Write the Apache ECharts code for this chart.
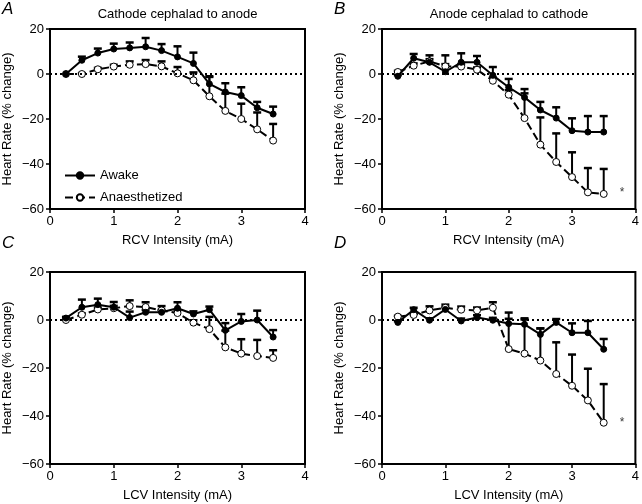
<!DOCTYPE html>
<html><head><meta charset="utf-8">
<script src="https://cdn.jsdelivr.net/npm/echarts@6/dist/echarts.min.js"></script>
<style>html,body{margin:0;padding:0;background:#fff}#c{width:642px;height:504px}</style>
</head><body><div id="c"></div>
<script>
// ---- data ----
const intensity = [0.25,0.5,0.75,1.0,1.25,1.5,1.75,2.0,2.25,2.5,2.75,3.0,3.25,3.5];
const xTicks = [0,1,2,3,4];
const yTicks = [-60,-40,-20,0,20];

const awakeA = [0,6.1,9.3,11.1,11.6,12.1,10.4,7.6,4.7,-4.4,-8,-9.6,-15,-17.8];
const awakeErrA = [0,1.6,2,2.4,2.4,3.9,2.9,4.7,4.8,3.4,3.9,3.7,2.6,3.3];
const anaesA = [0,0,2.1,3.3,4.1,4.4,3.4,0.3,-2.8,-9.9,-16.4,-20,-24.6,-29.6];
const anaesErrA = [0,0.4,0.6,0.8,1.5,1.8,2.2,2.8,3.5,8.6,7.7,6.8,7.5,7.4];

const awakeB = [-1,7,5.2,1,5.2,5.2,-0.6,-5.9,-10.4,-16,-19.6,-25.2,-25.8,-25.8];
const awakeErrB = [0.5,1.9,3.1,7.3,4.0,2.8,3.7,3.7,3.7,3.6,4.8,5.5,7.1,7.1];
const anaesB = [0.9,3.7,5.6,3.4,3.3,1.9,-3,-9.2,-19.6,-31.4,-39.1,-45.8,-52.6,-53.3];
const anaesErrB = [0.5,1,1,1,1,1,1.5,2,11,12.1,12.7,11,10.8,11.1];

const awakeC = [0.8,5.3,6.4,5.3,1.0,3.2,3.2,4.9,2.5,4.3,-4.3,-0.6,0,-7.1];
const awakeErrC = [0.5,3.2,2.5,2.2,2.5,1,1,2.5,1.1,1.3,3.0,3.1,3.9,2.9];
const anaesC = [0,2.2,4.4,4.9,5.8,5.4,4,2.9,-1.1,-3.8,-11.4,-14,-15,-15.8];
const anaesErrC = [0.3,0.5,0.8,1,2.4,2,1.8,1.2,1,5.1,7,6,6.7,3.2];

const awakeD = [-1,4.3,-0.1,4.4,-0.4,1,-0.1,-1.5,-1.8,-6,-1,-5.3,-5.3,-12.2];
const awakeErrD = [0.5,0.8,0.8,1,1,1,1,2,2,2.5,1.4,3.9,4.9,4.3];
const anaesD = [1.4,2.1,4.0,5.1,4.3,4,5.1,-12.1,-14,-16.9,-22.5,-27.4,-33.5,-42.8];
const anaesErrD = [0.3,0.5,1.7,1.3,1.3,1.2,2.3,15.2,14.7,13.4,13.2,13,13.2,16.1];

const starB = [3.79,-52.9];
const starD = [3.79,-42.8];

const panelLetters = ['A','B','C','D'];
const panelTitles = ['Cathode cephalad to anode','Anode cephalad to cathode','',''];
const xNames = ['RCV Intensity (mA)','RCV Intensity (mA)','LCV Intensity (mA)','LCV Intensity (mA)'];
const yName = 'Heart Rate (% change)';
const seriesNames = ['Awake','Anaesthetized'];

// ---- layout ----
const grids = [
  {left:50, top:29, width:255, height:180},
  {left:382, top:29, width:254, height:180},
  {left:50, top:272, width:255, height:192},
  {left:382, top:272, width:254, height:192}
];
const panels = [
  [awakeA,awakeErrA,anaesA,anaesErrA,null],
  [awakeB,awakeErrB,anaesB,anaesErrB,starB],
  [awakeC,awakeErrC,anaesC,anaesErrC,null],
  [awakeD,awakeErrD,anaesD,anaesErrD,starD]
];

const FONT = 'Liberation Sans, Arial, sans-serif';
const pts = v => intensity.map((x,i)=>[x,v[i]]);
const errPts = (v,e) => intensity.map((x,i)=>[x,v[i],e[i]]);

function renderErr(params, api){
  const x = api.value(0), y = api.value(1), e = api.value(2);
  if (!e) return null;
  const p0 = api.coord([x,y]), p1 = api.coord([x,y+e]);
  const hw = 4;
  return {type:'group', children:[
    {type:'line', shape:{x1:p0[0],y1:p0[1],x2:p1[0],y2:p1[1]}, style:{stroke:'#000',lineWidth:2}},
    {type:'line', shape:{x1:p1[0]-hw,y1:p1[1],x2:p1[0]+hw,y2:p1[1]}, style:{stroke:'#000',lineWidth:2.5}}
  ]};
}

const xAxes = [], yAxes = [], series = [], graphics = [];
grids.forEach((g,k)=>{
  xAxes.push({type:'value', gridIndex:k, min:xTicks[0], max:xTicks[xTicks.length-1], interval:1,
    name:xNames[k], nameLocation:'middle', nameGap:25,
    nameTextStyle:{fontSize:13,color:'#000',fontFamily:FONT},
    axisLine:{show:true,onZero:false,lineStyle:{color:'#000',width:2}},
    axisTick:{show:true,length:4,lineStyle:{color:'#000',width:1.5}},
    axisLabel:{fontSize:13,color:'#000',fontFamily:FONT,margin:6},
    splitLine:{show:false}});
  yAxes.push({type:'value', gridIndex:k, min:yTicks[0], max:yTicks[yTicks.length-1], interval:20,
    name:yName, nameLocation:'middle', nameGap:36,
    nameTextStyle:{fontSize:13,color:'#000',fontFamily:FONT},
    axisLine:{show:true,onZero:false,lineStyle:{color:'#000',width:2}},
    axisTick:{show:true,length:4,lineStyle:{color:'#000',width:1.5}},
    axisLabel:{fontSize:13,color:'#000',fontFamily:FONT,margin:6,
      formatter:v=> v<0 ? '\u2212'+Math.abs(v) : ''+v},
    splitLine:{show:false}});
  const [aw,awE,an,anE,star] = panels[k];
  series.push({type:'custom', xAxisIndex:k, yAxisIndex:k, renderItem:renderErr, data:errPts(an,anE), z:1, silent:true});
  series.push({type:'custom', xAxisIndex:k, yAxisIndex:k, renderItem:renderErr, data:errPts(aw,awE), z:1, silent:true});
  series.push({type:'line', name:seriesNames[1], xAxisIndex:k, yAxisIndex:k, data:pts(an), z:3,
    symbol:'circle', symbolSize:7, showAllSymbol:true,
    itemStyle:{color:'#fff',borderColor:'#000',borderWidth:1},
    lineStyle:{color:'#000',width:2,type:[8,4]},
    markLine:{silent:true,symbol:'none',label:{show:false},
      lineStyle:{color:'#000',width:2,type:[2,3]}, data:[{yAxis:0}]}});
  series.push({type:'line', name:seriesNames[0], xAxisIndex:k, yAxisIndex:k, data:pts(aw), z:4,
    symbol:'circle', symbolSize:6, showAllSymbol:true,
    itemStyle:{color:'#000',borderColor:'#000',borderWidth:1},
    lineStyle:{color:'#000',width:2}});
  if (star) {
    series.push({type:'scatter', xAxisIndex:k, yAxisIndex:k, data:[star], symbolSize:0, silent:true,
      label:{show:true,formatter:'*',position:'inside',fontSize:12,color:'#000',fontFamily:FONT}});
  }
  graphics.push({type:'text', left: g.left-48, top: g.top-28+(k>1?-9:0),
    style:{text:panelLetters[k], font:'italic 17px '+FONT, fill:'#000'}});
  if (panelTitles[k]) {
    graphics.push({type:'text', x: g.left+g.width/2, y: 14,
      style:{text:panelTitles[k], font:'13px '+FONT, fill:'#000', textAlign:'center', textVerticalAlign:'middle'}});
  }
});

const chart = echarts.init(document.getElementById('c'), null, {renderer:'canvas'});
chart.setOption({
  animation:false,
  backgroundColor:'#fff',
  grid: grids.map(g=>Object.assign({show:true,borderColor:'#000',borderWidth:2,containLabel:false},g)),
  xAxis:xAxes, yAxis:yAxes, series:series,
  legend:{show:true, orient:'vertical', left:59, top:164, itemWidth:30, itemHeight:8, itemGap:9,
    data:seriesNames, textStyle:{fontSize:13,color:'#000',fontFamily:FONT}},
  graphic:graphics
});
</script></body></html>
